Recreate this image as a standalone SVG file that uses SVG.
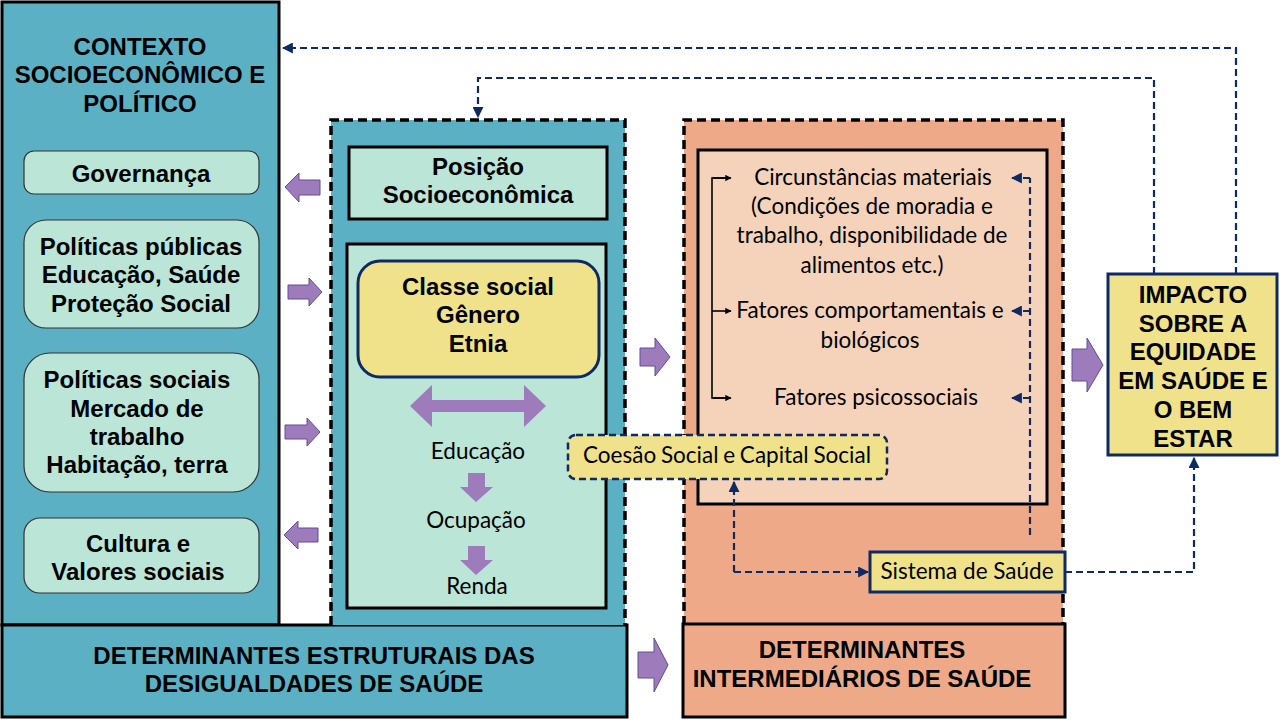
<svg xmlns="http://www.w3.org/2000/svg" width="1280" height="720" viewBox="0 0 1280 720">
<defs>
<style>
.b{font-family:"Liberation Sans",Arial,sans-serif;font-weight:bold;font-size:24px;fill:#000;text-anchor:middle}
.c{font-family:Lato,"Open Sans",sans-serif;font-size:22.5px;fill:#000;text-anchor:middle}
.teal{fill:#5BB0C4;stroke:#000;stroke-width:3}
.mint{fill:#BBE5D6;stroke:#000;stroke-width:3}
.rmint{fill:#BBE5D6;stroke:#333;stroke-width:1.2}
.yel{fill:#F0E28A;stroke:#0E2A64;stroke-width:3}
.dash{fill:none;stroke:#000;stroke-width:3.5;stroke-dasharray:9,5}
.nav{fill:none;stroke:#0E2A64;stroke-width:2.2;stroke-dasharray:7,4}
.pur{fill:#9E7BBA;stroke:#5E4E96;stroke-width:1}
.blk{fill:none;stroke:#000;stroke-width:1.6}
</style>
<marker id="an" viewBox="0 0 10 10" refX="9" refY="5" markerWidth="5" markerHeight="5" orient="auto"><path d="M0,0L10,5L0,10z" fill="#0E2A64"/></marker>
<marker id="ab" viewBox="0 0 10 10" refX="9" refY="5" markerWidth="4" markerHeight="4" orient="auto"><path d="M0,0L10,5L0,10z" fill="#000"/></marker>
</defs>

<g id="contexto">
<rect class="teal" x="2" y="2" width="277" height="623"/>
<text class="b"><tspan x="140" y="55">CONTEXTO</tspan><tspan x="140" y="83">SOCIOECONÔMICO E</tspan><tspan x="140" y="112">POLÍTICO</tspan></text>
</g>
<g id="governanca"><rect class="rmint" x="24" y="151" width="235" height="43" rx="10"/><text class="b" x="141" y="182">Governança</text></g>
<g id="politicas-publicas"><rect class="rmint" x="24" y="220" width="235" height="108" rx="22"/><text class="b"><tspan x="141" y="255">Políticas públicas</tspan><tspan x="141" y="283">Educação, Saúde</tspan><tspan x="141" y="312">Proteção Social</tspan></text></g>
<g id="politicas-sociais"><rect class="rmint" x="24" y="353" width="235" height="139" rx="26"/><text class="b"><tspan x="137" y="388">Políticas sociais</tspan><tspan x="137" y="417">Mercado de</tspan><tspan x="137" y="445">trabalho</tspan><tspan x="137" y="473">Habitação, terra</tspan></text></g>
<g id="cultura"><rect class="rmint" x="24" y="518" width="235" height="75" rx="16"/><text class="b"><tspan x="138" y="552">Cultura e</tspan><tspan x="138" y="580">Valores sociais</tspan></text></g>

<g id="estruturais">
<rect class="teal" x="2" y="625" width="625" height="92"/>
<text class="b"><tspan x="314" y="664">DETERMINANTES ESTRUTURAIS DAS</tspan><tspan x="314" y="692">DESIGUALDADES DE SAÚDE</tspan></text>
</g>

<g id="posicao-grupo">
<rect x="331" y="120" width="294" height="505" fill="#5BB0C4"/>
<path class="dash" d="M331,625V120H625V625"/>
</g>
<g id="posicao"><rect class="mint" x="349" y="147" width="258" height="72"/><text class="b"><tspan x="478" y="175">Posição</tspan><tspan x="478" y="203">Socioeconômica</tspan></text></g>
<g id="estratificacao">
<rect class="mint" x="347" y="244" width="259" height="364"/>
</g>
<g id="classe"><rect class="yel" x="358" y="261" width="241" height="116" rx="22"/><text class="b"><tspan x="478" y="295">Classe social</tspan><tspan x="478" y="323">Gênero</tspan><tspan x="478" y="352">Etnia</tspan></text></g>
<g id="educacao"><text class="c" x="478" y="459">Educação</text></g>
<g id="ocupacao"><text class="c" x="476" y="528">Ocupação</text></g>
<g id="renda"><text class="c" x="477" y="594">Renda</text></g>

<g id="intermediarios-grupo">
<rect x="684" y="120" width="379" height="505" fill="#EEAA88"/>
<path class="dash" d="M684,625V120H1063V625"/>
<rect x="698" y="150" width="349" height="354" fill="#F5D3BA" stroke="#000" stroke-width="3"/>
</g>
<g id="circunstancias"><text class="c"><tspan x="873" y="185">Circunstâncias materiais</tspan><tspan x="872" y="214">(Condições de moradia e</tspan><tspan x="872" y="243">trabalho, disponibilidade de</tspan><tspan x="872" y="273">alimentos etc.)</tspan></text></g>
<g id="comportamentais"><text class="c"><tspan x="870" y="318">Fatores comportamentais e</tspan><tspan x="870" y="348">biológicos</tspan></text></g>
<g id="psicossociais"><text class="c" x="876" y="405">Fatores psicossociais</text></g>

<g id="intermediarios">
<rect x="683" y="624" width="382" height="93" fill="#EEAA88" stroke="#000" stroke-width="3"/>
<text class="b"><tspan x="862" y="658">DETERMINANTES</tspan><tspan x="862" y="687">INTERMEDIÁRIOS DE SAÚDE</tspan></text>
</g>

<g id="coesao"><rect x="568" y="435" width="319" height="44" rx="8" fill="#F0E28A" stroke="#0E2A64" stroke-width="2.5" stroke-dasharray="7,4"/><text class="c" x="727" y="463" style="word-spacing:-1px">Coesão Social e Capital Social</text></g>
<g id="sistema"><rect class="yel" x="870" y="552" width="195" height="40"/><text class="c" x="967" y="579">Sistema de Saúde</text></g>

<g id="impacto"><rect class="yel" x="1108" y="274" width="169" height="181"/><text class="b"><tspan x="1193" y="303">IMPACTO</tspan><tspan x="1193" y="332">SOBRE A</tspan><tspan x="1193" y="360">EQUIDADE</tspan><tspan x="1193" y="389">EM SAÚDE E</tspan><tspan x="1193" y="418">O BEM</tspan><tspan x="1193" y="447">ESTAR</tspan></text></g>

<g id="connectors">
<polyline class="nav" points="1236,274 1236,48 283,48" marker-end="url(#an)"/>
<polyline class="nav" points="1154,274 1154,78 478,78 478,117" marker-end="url(#an)"/>
<polyline class="nav" points="1065,572 1194,572 1194,458" marker-end="url(#an)"/>
<polyline class="nav" points="734,572 734,482" marker-end="url(#an)"/>
<polyline class="nav" points="734,572 868,572" marker-end="url(#an)"/>
<polyline class="nav" points="1030,535 1030,178"/>
<line class="nav" x1="1030" y1="178" x2="1012" y2="178" stroke-dasharray="none" marker-end="url(#an)"/>
<line class="nav" x1="1030" y1="311" x2="1012" y2="311" stroke-dasharray="none" marker-end="url(#an)"/>
<line class="nav" x1="1030" y1="398" x2="1012" y2="398" stroke-dasharray="none" marker-end="url(#an)"/>
<polyline class="blk" points="730,178 712,178 712,398 730,398" />
<line class="blk" x1="712" y1="178" x2="731" y2="178" marker-end="url(#ab)"/>
<line class="blk" x1="712" y1="311" x2="731" y2="311" marker-end="url(#ab)"/>
<line class="blk" x1="712" y1="398" x2="731" y2="398" marker-end="url(#ab)"/>
<polygon class="pur" points="285,187 299,173 299,180 320,180 320,195 299,195 299,202"/>
<polygon class="pur" points="322,292 309,278 309,285 288,285 288,299 309,299 309,306"/>
<polygon class="pur" points="320,432 307,418 307,425 285,425 285,439 307,439 307,446"/>
<polygon class="pur" points="284,535 298,521 298,528 318,528 318,542 298,542 298,549"/>
<polygon class="pur" points="670,357 655,338 655,348 640,348 640,366 655,366 655,376"/>
<polygon class="pur" points="1103,365 1087,338 1087,349 1072,349 1072,381 1087,381 1087,392"/>
<polygon class="pur" points="668,665 654,638 654,652 638,652 638,678 654,678 654,692"/>
<polygon points="410,406 432,385 432,400 524,400 524,385 546,406 524,427 524,412 432,412 432,427" fill="#9E7BBA"/>
<polygon points="468,473 485,473 485,487 493,487 476,502 460,487 468,487" fill="#9E7BBA"/>
<polygon points="468,546 485,546 485,560 493,560 476,575 460,560 468,560" fill="#9E7BBA"/>
</g>
</svg>
